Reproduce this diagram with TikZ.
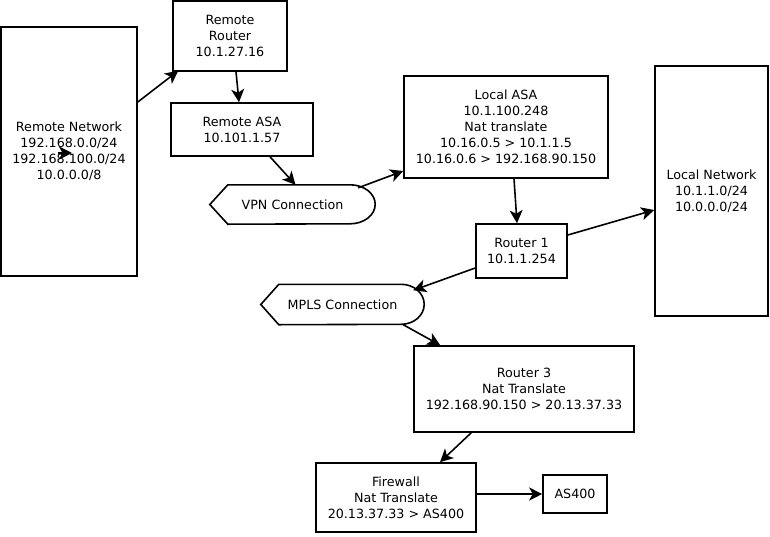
\documentclass[tikz,border=0pt]{standalone}
\usepackage{fontspec}
\setmainfont{DejaVu Sans}
\usetikzlibrary{arrows.meta}
\tikzset{
box/.style={shape=rectangle, draw, line width=1.6pt, fill=white, align=center, inner sep=0, font=\fontsize{12.7}{16}\selectfont},
link/.style={-{Stealth[length=13pt, width=13pt, inset=3.5pt]}, line width=1.6pt},
display/.style={shape=rectangle, inner sep=0, align=center, font=\fontsize{12.7}{16}\selectfont}}

\begin{document}
\begin{tikzpicture}[x=1pt, y=-1pt]
\useasboundingbox (0,0) rectangle (770,536);
% boxes
\node [box, minimum width=136pt, minimum height=249pt] at (69,151.5) (rnet) {Remote Network\\192.168.0.0/24\\192.168.100.0/24\\10.0.0.0/8};
\node [box, minimum width=114pt, minimum height=70pt] at (230,36) (rrouter) {Remote\\Router\\10.1.27.16};
\node [box, minimum width=142pt, minimum height=53pt] at (242,129.5) (rasa) {Remote ASA\\10.101.1.57};
\node [box, minimum width=204pt, minimum height=102pt] at (506,127) (lasa) {Local ASA\\10.1.100.248\\Nat translate\\10.16.0.5 > 10.1.1.5\\10.16.0.6 > 192.168.90.150};
\node [box, minimum width=113pt, minimum height=250pt] at (711.5,191) (lnet) {Local Network\\10.1.1.0/24\\10.0.0.0/24};
\node [box, minimum width=91pt, minimum height=54pt] at (521.5,251) (r1) {Router 1\\10.1.1.254};
\node [box, minimum width=220pt, minimum height=86pt] at (524,389) (r3) {Router 3\\Nat Translate\\192.168.90.150 > 20.13.37.33};
\node [box, minimum width=160pt, minimum height=69pt] at (396,497.5) (fw) {Firewall\\Nat Translate\\20.13.37.33 > AS400};
\node [box, minimum width=64pt, minimum height=38pt] at (575,494) (as400) {AS400};
% connection shapes
\node [display, minimum width=165pt, minimum height=39pt] at (292.5,204.5) (vpn) {VPN Connection};
\draw [line width=1.6pt] (vpn.west) -- ([xshift=18pt]vpn.north west) -- ([xshift=-25pt]vpn.north east)
      arc [start angle=90, end angle=-90, x radius=25pt, y radius=19.5pt] -- ([xshift=18pt]vpn.south west) -- cycle;
\node [display, minimum width=163pt, minimum height=40pt] at (342.5,304.5) (mpls) {MPLS Connection};
\draw [line width=1.6pt] (mpls.west) -- ([xshift=18pt]mpls.north west) -- ([xshift=-23pt]mpls.north east)
      arc [start angle=90, end angle=-90, x radius=23pt, y radius=20pt] -- ([xshift=18pt]mpls.south west) -- cycle;
% links
\draw [link] ([yshift=49.5pt]rnet.east) -- ([xshift=6pt, yshift=1pt]rrouter.south west);
\draw [link] ([xshift=6pt]rrouter.south) -- ([xshift=-3pt]rasa.north);
\draw [link] ([xshift=28pt]rasa.south) -- ([xshift=3pt]vpn.north);
\draw [link] ([xshift=-17pt, yshift=-3pt]vpn.north east) -- ([yshift=-44pt]lasa.west);
\draw [link] ([xshift=8pt]lasa.south) -- ([xshift=-4.5pt]r1.north);
\draw [link] ([yshift=16pt]r1.east) -- ([yshift=-19pt]lnet.west);
\draw [link] ([yshift=-17pt]r1.west) -- ([xshift=-11pt, yshift=-6pt]mpls.north east);
\draw [link] ([xshift=-21pt]mpls.south east) -- ([xshift=27pt]r3.north west);
\draw [link] ([xshift=58pt]r3.south west) -- ([xshift=44pt]fw.north);
\draw [link] (fw.east |- as400.west) -- (as400.west);
\coordinate (s1) at (58,153);
\coordinate (s2) at (72,153);
\draw [link] (s1) -- (s2);
\end{tikzpicture}
\end{document}
